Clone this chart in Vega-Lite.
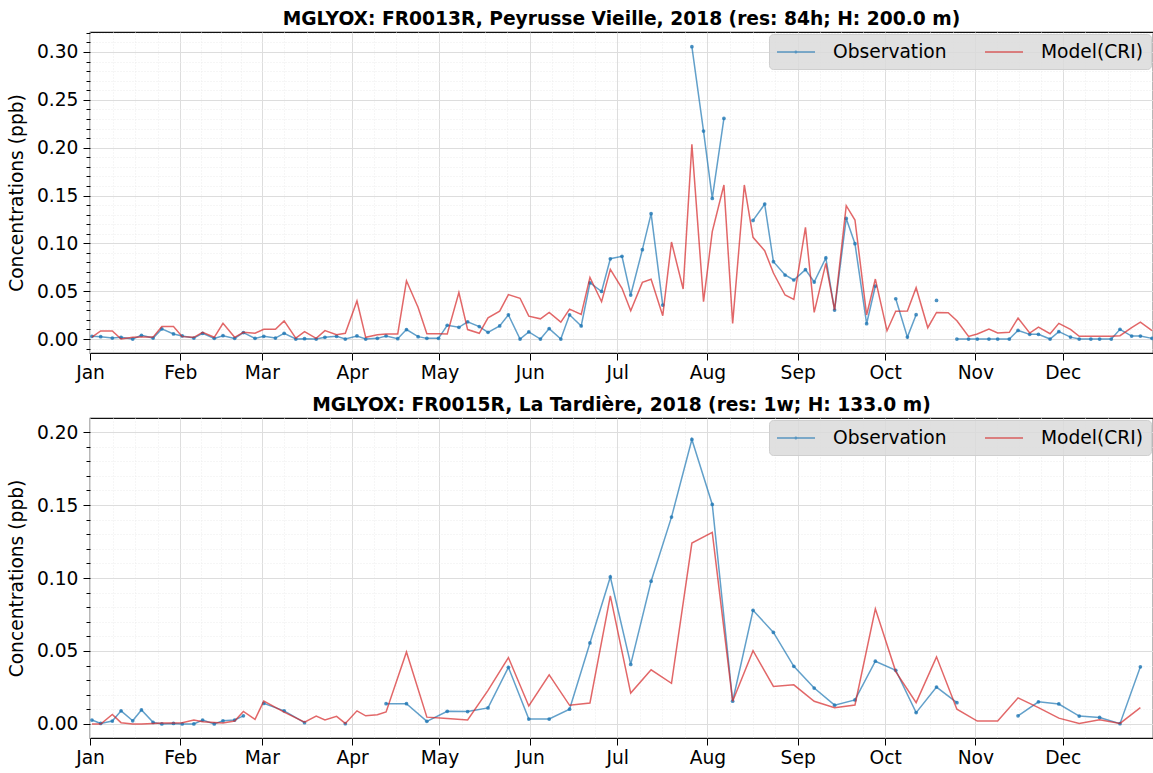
{
  "$schema": "https://vega.github.io/schema/vega-lite/v6.json",
  "background": "white",
  "padding": {"left": 6, "top": 9, "right": 0, "bottom": 0},
  "spacing": 12,
  "config": {
    "font": "DejaVu Sans",
    "view": {"stroke": "#111", "strokeWidth": 1.2},
    "axis": {"labelFont": "DejaVu Sans", "titleFont": "DejaVu Sans", "labelFontSize": 18.67, "titleFontSize": 18.67, "titleFontWeight": "normal", "labelColor": "#000", "titleColor": "#000", "tickColor": "#000", "tickWidth": 1, "domain": false, "gridWidth": 1},
    "title": {"font": "DejaVu Sans", "fontSize": 18.67, "fontWeight": "bold", "color": "#000", "anchor": "middle", "frame": "group", "offset": 3},
    "legend": {"orient": "top-right", "offset": 2, "direction": "horizontal", "fillColor": "rgba(218,218,218,0.85)", "strokeColor": "#cfcfcf", "cornerRadius": 4, "padding": 7, "labelFont": "DejaVu Sans", "labelFontSize": 18.67, "labelColor": "#000", "symbolSize": 361, "symbolStrokeWidth": 1.5, "symbolOpacity": 0.7, "labelOffset": 36, "columnPadding": 35, "title": null}
  },
  "resolve": {"scale": {"color": "independent"}, "legend": {"color": "independent"}},
  "vconcat": [
    {
      "title": "MGLYOX: FR0013R, Peyrusse Vieille, 2018 (res: 84h; H: 200.0 m)",
      "width": 1063,
      "height": 321,
      "data": {"values": [
        {"t": "2018-01-01T16:00:00Z", "Observation": 0.0028, "Model(CRI)": 0.002},
        {"t": "2018-01-04T16:00:00Z", "Observation": 0.0025, "Model(CRI)": 0.0084},
        {"t": "2018-01-08T16:00:00Z", "Observation": 0.001, "Model(CRI)": 0.0084},
        {"t": "2018-01-11T16:00:00Z", "Observation": 0.0018, "Model(CRI)": 0.0},
        {"t": "2018-01-15T16:00:00Z", "Observation": 0.0, "Model(CRI)": 0.0018},
        {"t": "2018-01-18T16:00:00Z", "Observation": 0.0039, "Model(CRI)": 0.002},
        {"t": "2018-01-22T16:00:00Z", "Observation": 0.001, "Model(CRI)": 0.002},
        {"t": "2018-01-25T16:00:00Z", "Observation": 0.0106, "Model(CRI)": 0.013},
        {"t": "2018-01-29T16:00:00Z", "Observation": 0.0053, "Model(CRI)": 0.013},
        {"t": "2018-02-01T16:00:00Z", "Observation": 0.0032, "Model(CRI)": 0.0025},
        {"t": "2018-02-05T16:00:00Z", "Observation": 0.001, "Model(CRI)": 0.0018},
        {"t": "2018-02-08T16:00:00Z", "Observation": 0.006, "Model(CRI)": 0.007},
        {"t": "2018-02-12T16:00:00Z", "Observation": 0.0007, "Model(CRI)": 0.0018},
        {"t": "2018-02-15T16:00:00Z", "Observation": 0.0035, "Model(CRI)": 0.0165},
        {"t": "2018-02-19T16:00:00Z", "Observation": 0.0007, "Model(CRI)": 0.0018},
        {"t": "2018-02-22T16:00:00Z", "Observation": 0.0067, "Model(CRI)": 0.007},
        {"t": "2018-02-26T16:00:00Z", "Observation": 0.0007, "Model(CRI)": 0.006},
        {"t": "2018-03-01T16:00:00Z", "Observation": 0.0028, "Model(CRI)": 0.0102},
        {"t": "2018-03-05T16:00:00Z", "Observation": 0.001, "Model(CRI)": 0.0102},
        {"t": "2018-03-08T16:00:00Z", "Observation": 0.006, "Model(CRI)": 0.019},
        {"t": "2018-03-12T16:00:00Z", "Observation": 0.0, "Model(CRI)": 0.001},
        {"t": "2018-03-15T16:00:00Z", "Observation": 0.0004, "Model(CRI)": 0.0077},
        {"t": "2018-03-19T16:00:00Z", "Observation": 0.0, "Model(CRI)": 0.0007},
        {"t": "2018-03-22T16:00:00Z", "Observation": 0.0018, "Model(CRI)": 0.0088},
        {"t": "2018-03-26T16:00:00Z", "Observation": 0.0028, "Model(CRI)": 0.0046},
        {"t": "2018-03-29T16:00:00Z", "Observation": 0.0, "Model(CRI)": 0.006},
        {"t": "2018-04-02T16:00:00Z", "Observation": 0.0032, "Model(CRI)": 0.0398},
        {"t": "2018-04-05T16:00:00Z", "Observation": 0.0, "Model(CRI)": 0.0018},
        {"t": "2018-04-09T16:00:00Z", "Observation": 0.0007, "Model(CRI)": 0.0044},
        {"t": "2018-04-12T16:00:00Z", "Observation": 0.0032, "Model(CRI)": 0.0053},
        {"t": "2018-04-16T16:00:00Z", "Observation": 0.0004, "Model(CRI)": 0.0053},
        {"t": "2018-04-19T16:00:00Z", "Observation": 0.0099, "Model(CRI)": 0.0609},
        {"t": "2018-04-23T16:00:00Z", "Observation": 0.0025, "Model(CRI)": 0.033},
        {"t": "2018-04-26T16:00:00Z", "Observation": 0.0007, "Model(CRI)": 0.0056},
        {"t": "2018-04-30T16:00:00Z", "Observation": 0.0007, "Model(CRI)": 0.0056},
        {"t": "2018-05-03T16:00:00Z", "Observation": 0.0144, "Model(CRI)": 0.0053},
        {"t": "2018-05-07T16:00:00Z", "Observation": 0.0123, "Model(CRI)": 0.0486},
        {"t": "2018-05-10T16:00:00Z", "Observation": 0.018, "Model(CRI)": 0.0099},
        {"t": "2018-05-14T16:00:00Z", "Observation": 0.013, "Model(CRI)": 0.006},
        {"t": "2018-05-17T16:00:00Z", "Observation": 0.007, "Model(CRI)": 0.0222},
        {"t": "2018-05-21T16:00:00Z", "Observation": 0.0137, "Model(CRI)": 0.0292},
        {"t": "2018-05-24T16:00:00Z", "Observation": 0.0253, "Model(CRI)": 0.0465},
        {"t": "2018-05-28T16:00:00Z", "Observation": 0.0, "Model(CRI)": 0.0426},
        {"t": "2018-05-31T16:00:00Z", "Observation": 0.0074, "Model(CRI)": 0.0239},
        {"t": "2018-06-04T16:00:00Z", "Observation": 0.0, "Model(CRI)": 0.0211},
        {"t": "2018-06-07T16:00:00Z", "Observation": 0.0109, "Model(CRI)": 0.0278},
        {"t": "2018-06-11T16:00:00Z", "Observation": 0.0, "Model(CRI)": 0.0176},
        {"t": "2018-06-14T16:00:00Z", "Observation": 0.0253, "Model(CRI)": 0.0313},
        {"t": "2018-06-18T16:00:00Z", "Observation": 0.0137, "Model(CRI)": 0.0257},
        {"t": "2018-06-21T16:00:00Z", "Observation": 0.0588, "Model(CRI)": 0.0644},
        {"t": "2018-06-25T16:00:00Z", "Observation": 0.0497, "Model(CRI)": 0.039},
        {"t": "2018-06-28T16:00:00Z", "Observation": 0.0839, "Model(CRI)": 0.0728},
        {"t": "2018-07-02T16:00:00Z", "Observation": 0.0864, "Model(CRI)": 0.053},
        {"t": "2018-07-05T16:00:00Z", "Observation": 0.046, "Model(CRI)": 0.0296},
        {"t": "2018-07-09T16:00:00Z", "Observation": 0.0934, "Model(CRI)": 0.0592},
        {"t": "2018-07-12T16:00:00Z", "Observation": 0.131, "Model(CRI)": 0.0624},
        {"t": "2018-07-16T16:00:00Z", "Observation": 0.0355, "Model(CRI)": 0.0244},
        {"t": "2018-07-19T16:00:00Z", "Observation": null, "Model(CRI)": 0.1014},
        {"t": "2018-07-23T16:00:00Z", "Observation": null, "Model(CRI)": 0.0523},
        {"t": "2018-07-26T16:00:00Z", "Observation": 0.3056, "Model(CRI)": 0.2035},
        {"t": "2018-07-30T16:00:00Z", "Observation": 0.2174, "Model(CRI)": 0.039},
        {"t": "2018-08-02T16:00:00Z", "Observation": 0.147, "Model(CRI)": 0.1122},
        {"t": "2018-08-06T16:00:00Z", "Observation": 0.2306, "Model(CRI)": 0.161},
        {"t": "2018-08-09T16:00:00Z", "Observation": null, "Model(CRI)": 0.0164},
        {"t": "2018-08-13T16:00:00Z", "Observation": null, "Model(CRI)": 0.161},
        {"t": "2018-08-16T16:00:00Z", "Observation": 0.124, "Model(CRI)": 0.1063},
        {"t": "2018-08-20T16:00:00Z", "Observation": 0.141, "Model(CRI)": 0.0923},
        {"t": "2018-08-23T16:00:00Z", "Observation": 0.0808, "Model(CRI)": 0.069},
        {"t": "2018-08-27T16:00:00Z", "Observation": 0.0669, "Model(CRI)": 0.046},
        {"t": "2018-08-30T16:00:00Z", "Observation": 0.0617, "Model(CRI)": 0.0415},
        {"t": "2018-09-03T16:00:00Z", "Observation": 0.0725, "Model(CRI)": 0.1167},
        {"t": "2018-09-06T16:00:00Z", "Observation": 0.0596, "Model(CRI)": 0.0279},
        {"t": "2018-09-10T16:00:00Z", "Observation": 0.0847, "Model(CRI)": 0.0791},
        {"t": "2018-09-13T16:00:00Z", "Observation": 0.0303, "Model(CRI)": 0.0303},
        {"t": "2018-09-17T16:00:00Z", "Observation": 0.126, "Model(CRI)": 0.1394},
        {"t": "2018-09-20T16:00:00Z", "Observation": 0.0997, "Model(CRI)": 0.1244},
        {"t": "2018-09-24T16:00:00Z", "Observation": 0.016, "Model(CRI)": 0.0251},
        {"t": "2018-09-27T16:00:00Z", "Observation": 0.0554, "Model(CRI)": 0.0627},
        {"t": "2018-10-01T16:00:00Z", "Observation": null, "Model(CRI)": 0.0087},
        {"t": "2018-10-04T16:00:00Z", "Observation": 0.0421, "Model(CRI)": 0.029},
        {"t": "2018-10-08T16:00:00Z", "Observation": 0.002, "Model(CRI)": 0.0292},
        {"t": "2018-10-11T16:00:00Z", "Observation": 0.0254, "Model(CRI)": 0.0536},
        {"t": "2018-10-15T16:00:00Z", "Observation": null, "Model(CRI)": 0.0118},
        {"t": "2018-10-18T16:00:00Z", "Observation": 0.0404, "Model(CRI)": 0.0278},
        {"t": "2018-10-22T16:00:00Z", "Observation": null, "Model(CRI)": 0.0275},
        {"t": "2018-10-25T16:00:00Z", "Observation": 0.0, "Model(CRI)": 0.0191},
        {"t": "2018-10-29T16:00:00Z", "Observation": 0.0, "Model(CRI)": 0.0028},
        {"t": "2018-11-01T16:00:00Z", "Observation": 0.0, "Model(CRI)": 0.0052},
        {"t": "2018-11-05T16:00:00Z", "Observation": 0.0, "Model(CRI)": 0.0104},
        {"t": "2018-11-08T16:00:00Z", "Observation": 0.0, "Model(CRI)": 0.0063},
        {"t": "2018-11-12T16:00:00Z", "Observation": 0.0, "Model(CRI)": 0.007},
        {"t": "2018-11-15T16:00:00Z", "Observation": 0.009, "Model(CRI)": 0.0219},
        {"t": "2018-11-19T16:00:00Z", "Observation": 0.0049, "Model(CRI)": 0.0063},
        {"t": "2018-11-22T16:00:00Z", "Observation": 0.0049, "Model(CRI)": 0.0125},
        {"t": "2018-11-26T16:00:00Z", "Observation": 0.0, "Model(CRI)": 0.0056},
        {"t": "2018-11-29T16:00:00Z", "Observation": 0.0077, "Model(CRI)": 0.0164},
        {"t": "2018-12-03T16:00:00Z", "Observation": 0.002, "Model(CRI)": 0.0101},
        {"t": "2018-12-06T16:00:00Z", "Observation": 0.0, "Model(CRI)": 0.0028},
        {"t": "2018-12-10T16:00:00Z", "Observation": 0.0, "Model(CRI)": 0.0028},
        {"t": "2018-12-13T16:00:00Z", "Observation": 0.0, "Model(CRI)": 0.0028},
        {"t": "2018-12-17T16:00:00Z", "Observation": 0.0, "Model(CRI)": 0.0028},
        {"t": "2018-12-20T16:00:00Z", "Observation": 0.0101, "Model(CRI)": 0.0035},
        {"t": "2018-12-24T16:00:00Z", "Observation": 0.0031, "Model(CRI)": 0.0118},
        {"t": "2018-12-27T16:00:00Z", "Observation": 0.0031, "Model(CRI)": 0.0177},
        {"t": "2018-12-31T16:00:00Z", "Observation": 0.0007, "Model(CRI)": 0.0087}
      ]},
      "transform": [{"fold": ["Observation", "Model(CRI)"], "as": ["s", "v"]}],
      "encoding": {
        "x": {"field": "t", "type": "temporal",
          "scale": {"type": "utc", "nice": false, "domain": [{"year": 2018, "month": 1, "date": 1, "utc": true}, {"year": 2019, "month": 1, "date": 1, "utc": true}]},
          "axis": {"title": null, "orient": "bottom", "labelFlush": false, "labelOverlap": false, "labelPadding": 3,
            "values": [
              {"year": 2018, "month": 1, "date": 1, "utc": true}, {"year": 2018, "month": 1, "date": 8, "hours": 18, "utc": true}, {"year": 2018, "month": 1, "date": 16, "hours": 12, "utc": true}, {"year": 2018, "month": 1, "date": 24, "hours": 6, "utc": true},
              {"year": 2018, "month": 2, "date": 1, "utc": true}, {"year": 2018, "month": 2, "date": 8, "utc": true}, {"year": 2018, "month": 2, "date": 15, "utc": true}, {"year": 2018, "month": 2, "date": 22, "utc": true},
              {"year": 2018, "month": 3, "date": 1, "utc": true}, {"year": 2018, "month": 3, "date": 8, "hours": 18, "utc": true}, {"year": 2018, "month": 3, "date": 16, "hours": 12, "utc": true}, {"year": 2018, "month": 3, "date": 24, "hours": 6, "utc": true},
              {"year": 2018, "month": 4, "date": 1, "utc": true}, {"year": 2018, "month": 4, "date": 8, "hours": 12, "utc": true}, {"year": 2018, "month": 4, "date": 16, "utc": true}, {"year": 2018, "month": 4, "date": 23, "hours": 12, "utc": true},
              {"year": 2018, "month": 5, "date": 1, "utc": true}, {"year": 2018, "month": 5, "date": 8, "hours": 18, "utc": true}, {"year": 2018, "month": 5, "date": 16, "hours": 12, "utc": true}, {"year": 2018, "month": 5, "date": 24, "hours": 6, "utc": true},
              {"year": 2018, "month": 6, "date": 1, "utc": true}, {"year": 2018, "month": 6, "date": 8, "hours": 12, "utc": true}, {"year": 2018, "month": 6, "date": 16, "utc": true}, {"year": 2018, "month": 6, "date": 23, "hours": 12, "utc": true},
              {"year": 2018, "month": 7, "date": 1, "utc": true}, {"year": 2018, "month": 7, "date": 8, "hours": 18, "utc": true}, {"year": 2018, "month": 7, "date": 16, "hours": 12, "utc": true}, {"year": 2018, "month": 7, "date": 24, "hours": 6, "utc": true},
              {"year": 2018, "month": 8, "date": 1, "utc": true}, {"year": 2018, "month": 8, "date": 8, "hours": 18, "utc": true}, {"year": 2018, "month": 8, "date": 16, "hours": 12, "utc": true}, {"year": 2018, "month": 8, "date": 24, "hours": 6, "utc": true},
              {"year": 2018, "month": 9, "date": 1, "utc": true}, {"year": 2018, "month": 9, "date": 8, "hours": 12, "utc": true}, {"year": 2018, "month": 9, "date": 16, "utc": true}, {"year": 2018, "month": 9, "date": 23, "hours": 12, "utc": true},
              {"year": 2018, "month": 10, "date": 1, "utc": true}, {"year": 2018, "month": 10, "date": 8, "hours": 18, "utc": true}, {"year": 2018, "month": 10, "date": 16, "hours": 12, "utc": true}, {"year": 2018, "month": 10, "date": 24, "hours": 6, "utc": true},
              {"year": 2018, "month": 11, "date": 1, "utc": true}, {"year": 2018, "month": 11, "date": 8, "hours": 12, "utc": true}, {"year": 2018, "month": 11, "date": 16, "utc": true}, {"year": 2018, "month": 11, "date": 23, "hours": 12, "utc": true},
              {"year": 2018, "month": 12, "date": 1, "utc": true}, {"year": 2018, "month": 12, "date": 8, "hours": 18, "utc": true}, {"year": 2018, "month": 12, "date": 16, "hours": 12, "utc": true}, {"year": 2018, "month": 12, "date": 24, "hours": 6, "utc": true}
            ],
            "labelExpr": "utcdate(datum.value) == 1 ? utcFormat(datum.value, '%b') : ''",
            "tickSize": {"condition": {"test": "utcdate(datum.value) != 1", "value": 0}, "value": 7},
            "gridDash": {"condition": {"test": "utcdate(datum.value) != 1", "value": [1, 2]}, "value": []},
            "gridColor": {"condition": {"test": "utcdate(datum.value) != 1", "value": "#ececec"}, "value": "#dddddd"}
          }
        },
        "y": {"field": "v", "type": "quantitative",
          "scale": {"domain": [-0.0146, 0.3209], "nice": false, "zero": false},
          "axis": {"title": "Concentrations (ppb)", "orient": "left", "labelPadding": 5, "titlePadding": 10,
            "values": [-0.01, 0, 0.01, 0.02, 0.03, 0.04, 0.05, 0.06, 0.07, 0.08, 0.09, 0.1, 0.11, 0.12, 0.13, 0.14, 0.15, 0.16, 0.17, 0.18, 0.19, 0.2, 0.21, 0.22, 0.23, 0.24, 0.25, 0.26, 0.27, 0.28, 0.29, 0.3, 0.31, 0.32],
            "labelExpr": "round(datum.value * 100) % 5 == 0 ? format(datum.value, '.2f') : ''",
            "tickSize": {"condition": {"test": "round(datum.value * 100) % 5 != 0", "value": 4}, "value": 7},
            "gridDash": {"condition": {"test": "round(datum.value * 100) % 5 != 0", "value": [1, 2]}, "value": []},
            "gridColor": {"condition": {"test": "round(datum.value * 100) % 5 != 0", "value": "#ececec"}, "value": "#dddddd"}
          }
        },
        "color": {"field": "s", "type": "nominal",
          "scale": {"domain": ["Observation", "Model(CRI)"], "range": ["#1f77b4", "#d62728"]},
          "legend": {"encode": {"symbols": {"update": {"shape": {"signal": "datum.value === 'Observation' ? 'M-1,0H3M0.92,0A0.08,0.08,0,1,1,1.08,0A0.08,0.08,0,1,1,0.92,0' : 'M-1,0H3'"}}}}}
        }
      },
      "layer": [
        {"transform": [{"filter": "datum.s === 'Observation'"}], "mark": {"type": "line", "strokeWidth": 1.5, "opacity": 0.7, "invalid": "break-paths-filter-domains"}},
        {"transform": [{"filter": "datum.s === 'Observation' && isValid(datum.v)"}], "mark": {"type": "point", "filled": true, "size": 14, "opacity": 0.8}},
        {"transform": [{"filter": "datum.s === 'Model(CRI)'"}], "mark": {"type": "line", "strokeWidth": 1.5, "opacity": 0.7}}
      ]
    },
    {
      "title": "MGLYOX: FR0015R, La Tardière, 2018 (res: 1w; H: 133.0 m)",
      "width": 1063,
      "height": 320,
      "data": {"values": [
        {"t": "2018-01-01T16:00:00Z", "Observation": 0.0027, "Model(CRI)": 0.0},
        {"t": "2018-01-04T16:00:00Z", "Observation": 0.0004, "Model(CRI)": 0.0},
        {"t": "2018-01-08T16:00:00Z", "Observation": 0.002, "Model(CRI)": 0.0065},
        {"t": "2018-01-11T16:00:00Z", "Observation": 0.009, "Model(CRI)": 0.0009},
        {"t": "2018-01-15T16:00:00Z", "Observation": 0.0022, "Model(CRI)": 0.0},
        {"t": "2018-01-18T16:00:00Z", "Observation": 0.0096, "Model(CRI)": 0.0},
        {"t": "2018-01-22T16:00:00Z", "Observation": 0.0011, "Model(CRI)": 0.0004},
        {"t": "2018-01-25T16:00:00Z", "Observation": 0.0, "Model(CRI)": 0.0007},
        {"t": "2018-01-29T16:00:00Z", "Observation": 0.0004, "Model(CRI)": 0.0007},
        {"t": "2018-02-01T16:00:00Z", "Observation": 0.0, "Model(CRI)": 0.0009},
        {"t": "2018-02-05T16:00:00Z", "Observation": 0.0, "Model(CRI)": 0.0027},
        {"t": "2018-02-08T16:00:00Z", "Observation": 0.0027, "Model(CRI)": 0.0016},
        {"t": "2018-02-12T16:00:00Z", "Observation": 0.0, "Model(CRI)": 0.0011},
        {"t": "2018-02-15T16:00:00Z", "Observation": 0.0022, "Model(CRI)": 0.0007},
        {"t": "2018-02-19T16:00:00Z", "Observation": 0.0027, "Model(CRI)": 0.002},
        {"t": "2018-02-22T16:00:00Z", "Observation": 0.0056, "Model(CRI)": 0.0086},
        {"t": "2018-02-26T16:00:00Z", "Observation": null, "Model(CRI)": 0.0032},
        {"t": "2018-03-01T16:00:00Z", "Observation": 0.0141, "Model(CRI)": 0.0157},
        {"t": "2018-03-08T16:00:00Z", "Observation": 0.009, "Model(CRI)": 0.0081},
        {"t": "2018-03-15T16:00:00Z", "Observation": 0.0009, "Model(CRI)": 0.0013},
        {"t": "2018-03-19T16:00:00Z", "Observation": null, "Model(CRI)": 0.0054},
        {"t": "2018-03-22T16:00:00Z", "Observation": null, "Model(CRI)": 0.0027},
        {"t": "2018-03-26T16:00:00Z", "Observation": null, "Model(CRI)": 0.0052},
        {"t": "2018-03-29T16:00:00Z", "Observation": 0.0002, "Model(CRI)": 0.0004},
        {"t": "2018-04-02T16:00:00Z", "Observation": null, "Model(CRI)": 0.009},
        {"t": "2018-04-05T16:00:00Z", "Observation": null, "Model(CRI)": 0.0056},
        {"t": "2018-04-09T16:00:00Z", "Observation": null, "Model(CRI)": 0.0063},
        {"t": "2018-04-12T16:00:00Z", "Observation": 0.0139, "Model(CRI)": 0.0083},
        {"t": "2018-04-19T16:00:00Z", "Observation": 0.0139, "Model(CRI)": 0.0493},
        {"t": "2018-04-26T16:00:00Z", "Observation": 0.0018, "Model(CRI)": 0.0047},
        {"t": "2018-05-03T16:00:00Z", "Observation": 0.0087, "Model(CRI)": 0.0038},
        {"t": "2018-05-10T16:00:00Z", "Observation": 0.0085, "Model(CRI)": 0.0027},
        {"t": "2018-05-17T16:00:00Z", "Observation": 0.011, "Model(CRI)": 0.023},
        {"t": "2018-05-24T16:00:00Z", "Observation": 0.0388, "Model(CRI)": 0.0455},
        {"t": "2018-05-31T16:00:00Z", "Observation": 0.0034, "Model(CRI)": 0.0123},
        {"t": "2018-06-07T16:00:00Z", "Observation": 0.0034, "Model(CRI)": 0.0336},
        {"t": "2018-06-14T16:00:00Z", "Observation": 0.0101, "Model(CRI)": 0.0128},
        {"t": "2018-06-21T16:00:00Z", "Observation": 0.0555, "Model(CRI)": 0.0144},
        {"t": "2018-06-28T16:00:00Z", "Observation": 0.1007, "Model(CRI)": 0.0877},
        {"t": "2018-07-05T16:00:00Z", "Observation": 0.0408, "Model(CRI)": 0.0212},
        {"t": "2018-07-12T16:00:00Z", "Observation": 0.0978, "Model(CRI)": 0.0371},
        {"t": "2018-07-19T16:00:00Z", "Observation": 0.1417, "Model(CRI)": 0.0279},
        {"t": "2018-07-26T16:00:00Z", "Observation": 0.1949, "Model(CRI)": 0.1239},
        {"t": "2018-08-02T16:00:00Z", "Observation": 0.1504, "Model(CRI)": 0.1313},
        {"t": "2018-08-09T16:00:00Z", "Observation": 0.0156, "Model(CRI)": 0.0156},
        {"t": "2018-08-16T16:00:00Z", "Observation": 0.0779, "Model(CRI)": 0.0502},
        {"t": "2018-08-23T16:00:00Z", "Observation": 0.0627, "Model(CRI)": 0.0257},
        {"t": "2018-08-30T16:00:00Z", "Observation": 0.0395, "Model(CRI)": 0.0268},
        {"t": "2018-09-06T16:00:00Z", "Observation": 0.0246, "Model(CRI)": 0.0156},
        {"t": "2018-09-13T16:00:00Z", "Observation": 0.0129, "Model(CRI)": 0.0112},
        {"t": "2018-09-20T16:00:00Z", "Observation": 0.0165, "Model(CRI)": 0.013},
        {"t": "2018-09-27T16:00:00Z", "Observation": 0.043, "Model(CRI)": 0.0789},
        {"t": "2018-10-04T16:00:00Z", "Observation": 0.0368, "Model(CRI)": 0.0359},
        {"t": "2018-10-11T16:00:00Z", "Observation": 0.0078, "Model(CRI)": 0.0146},
        {"t": "2018-10-18T16:00:00Z", "Observation": 0.0253, "Model(CRI)": 0.046},
        {"t": "2018-10-25T16:00:00Z", "Observation": 0.0146, "Model(CRI)": 0.0101},
        {"t": "2018-11-01T16:00:00Z", "Observation": null, "Model(CRI)": 0.002},
        {"t": "2018-11-08T16:00:00Z", "Observation": null, "Model(CRI)": 0.002},
        {"t": "2018-11-15T16:00:00Z", "Observation": 0.0056, "Model(CRI)": 0.0179},
        {"t": "2018-11-22T16:00:00Z", "Observation": 0.0152, "Model(CRI)": 0.0112},
        {"t": "2018-11-29T16:00:00Z", "Observation": 0.0137, "Model(CRI)": 0.004},
        {"t": "2018-12-06T16:00:00Z", "Observation": 0.0054, "Model(CRI)": 0.0004},
        {"t": "2018-12-13T16:00:00Z", "Observation": 0.0045, "Model(CRI)": 0.0029},
        {"t": "2018-12-20T16:00:00Z", "Observation": 0.0002, "Model(CRI)": 0.0004},
        {"t": "2018-12-27T16:00:00Z", "Observation": 0.0392, "Model(CRI)": 0.0112}
      ]},
      "transform": [{"fold": ["Observation", "Model(CRI)"], "as": ["s", "v"]}],
      "encoding": {
        "x": {"field": "t", "type": "temporal",
          "scale": {"type": "utc", "nice": false, "domain": [{"year": 2018, "month": 1, "date": 1, "utc": true}, {"year": 2019, "month": 1, "date": 1, "utc": true}]},
          "axis": {"title": null, "orient": "bottom", "labelFlush": false, "labelOverlap": false, "labelPadding": 3,
            "values": [
              {"year": 2018, "month": 1, "date": 1, "utc": true}, {"year": 2018, "month": 1, "date": 8, "hours": 18, "utc": true}, {"year": 2018, "month": 1, "date": 16, "hours": 12, "utc": true}, {"year": 2018, "month": 1, "date": 24, "hours": 6, "utc": true},
              {"year": 2018, "month": 2, "date": 1, "utc": true}, {"year": 2018, "month": 2, "date": 8, "utc": true}, {"year": 2018, "month": 2, "date": 15, "utc": true}, {"year": 2018, "month": 2, "date": 22, "utc": true},
              {"year": 2018, "month": 3, "date": 1, "utc": true}, {"year": 2018, "month": 3, "date": 8, "hours": 18, "utc": true}, {"year": 2018, "month": 3, "date": 16, "hours": 12, "utc": true}, {"year": 2018, "month": 3, "date": 24, "hours": 6, "utc": true},
              {"year": 2018, "month": 4, "date": 1, "utc": true}, {"year": 2018, "month": 4, "date": 8, "hours": 12, "utc": true}, {"year": 2018, "month": 4, "date": 16, "utc": true}, {"year": 2018, "month": 4, "date": 23, "hours": 12, "utc": true},
              {"year": 2018, "month": 5, "date": 1, "utc": true}, {"year": 2018, "month": 5, "date": 8, "hours": 18, "utc": true}, {"year": 2018, "month": 5, "date": 16, "hours": 12, "utc": true}, {"year": 2018, "month": 5, "date": 24, "hours": 6, "utc": true},
              {"year": 2018, "month": 6, "date": 1, "utc": true}, {"year": 2018, "month": 6, "date": 8, "hours": 12, "utc": true}, {"year": 2018, "month": 6, "date": 16, "utc": true}, {"year": 2018, "month": 6, "date": 23, "hours": 12, "utc": true},
              {"year": 2018, "month": 7, "date": 1, "utc": true}, {"year": 2018, "month": 7, "date": 8, "hours": 18, "utc": true}, {"year": 2018, "month": 7, "date": 16, "hours": 12, "utc": true}, {"year": 2018, "month": 7, "date": 24, "hours": 6, "utc": true},
              {"year": 2018, "month": 8, "date": 1, "utc": true}, {"year": 2018, "month": 8, "date": 8, "hours": 18, "utc": true}, {"year": 2018, "month": 8, "date": 16, "hours": 12, "utc": true}, {"year": 2018, "month": 8, "date": 24, "hours": 6, "utc": true},
              {"year": 2018, "month": 9, "date": 1, "utc": true}, {"year": 2018, "month": 9, "date": 8, "hours": 12, "utc": true}, {"year": 2018, "month": 9, "date": 16, "utc": true}, {"year": 2018, "month": 9, "date": 23, "hours": 12, "utc": true},
              {"year": 2018, "month": 10, "date": 1, "utc": true}, {"year": 2018, "month": 10, "date": 8, "hours": 18, "utc": true}, {"year": 2018, "month": 10, "date": 16, "hours": 12, "utc": true}, {"year": 2018, "month": 10, "date": 24, "hours": 6, "utc": true},
              {"year": 2018, "month": 11, "date": 1, "utc": true}, {"year": 2018, "month": 11, "date": 8, "hours": 12, "utc": true}, {"year": 2018, "month": 11, "date": 16, "utc": true}, {"year": 2018, "month": 11, "date": 23, "hours": 12, "utc": true},
              {"year": 2018, "month": 12, "date": 1, "utc": true}, {"year": 2018, "month": 12, "date": 8, "hours": 18, "utc": true}, {"year": 2018, "month": 12, "date": 16, "hours": 12, "utc": true}, {"year": 2018, "month": 12, "date": 24, "hours": 6, "utc": true}
            ],
            "labelExpr": "utcdate(datum.value) == 1 ? utcFormat(datum.value, '%b') : ''",
            "tickSize": {"condition": {"test": "utcdate(datum.value) != 1", "value": 0}, "value": 7},
            "gridDash": {"condition": {"test": "utcdate(datum.value) != 1", "value": [1, 2]}, "value": []},
            "gridColor": {"condition": {"test": "utcdate(datum.value) != 1", "value": "#ececec"}, "value": "#dddddd"}
          }
        },
        "y": {"field": "v", "type": "quantitative",
          "scale": {"domain": [-0.0096, 0.2096], "nice": false, "zero": false},
          "axis": {"title": "Concentrations (ppb)", "orient": "left", "labelPadding": 5, "titlePadding": 10,
            "values": [0, 0.01, 0.02, 0.03, 0.04, 0.05, 0.06, 0.07, 0.08, 0.09, 0.1, 0.11, 0.12, 0.13, 0.14, 0.15, 0.16, 0.17, 0.18, 0.19, 0.2],
            "labelExpr": "round(datum.value * 100) % 5 == 0 ? format(datum.value, '.2f') : ''",
            "tickSize": {"condition": {"test": "round(datum.value * 100) % 5 != 0", "value": 4}, "value": 7},
            "gridDash": {"condition": {"test": "round(datum.value * 100) % 5 != 0", "value": [1, 2]}, "value": []},
            "gridColor": {"condition": {"test": "round(datum.value * 100) % 5 != 0", "value": "#ececec"}, "value": "#dddddd"}
          }
        },
        "color": {"field": "s", "type": "nominal",
          "scale": {"domain": ["Observation", "Model(CRI)"], "range": ["#1f77b4", "#d62728"]},
          "legend": {"encode": {"symbols": {"update": {"shape": {"signal": "datum.value === 'Observation' ? 'M-1,0H3M0.92,0A0.08,0.08,0,1,1,1.08,0A0.08,0.08,0,1,1,0.92,0' : 'M-1,0H3'"}}}}}
        }
      },
      "layer": [
        {"transform": [{"filter": "datum.s === 'Observation'"}], "mark": {"type": "line", "strokeWidth": 1.5, "opacity": 0.7, "invalid": "break-paths-filter-domains"}},
        {"transform": [{"filter": "datum.s === 'Observation' && isValid(datum.v)"}], "mark": {"type": "point", "filled": true, "size": 14, "opacity": 0.8}},
        {"transform": [{"filter": "datum.s === 'Model(CRI)'"}], "mark": {"type": "line", "strokeWidth": 1.5, "opacity": 0.7}}
      ]
    }
  ]
}
